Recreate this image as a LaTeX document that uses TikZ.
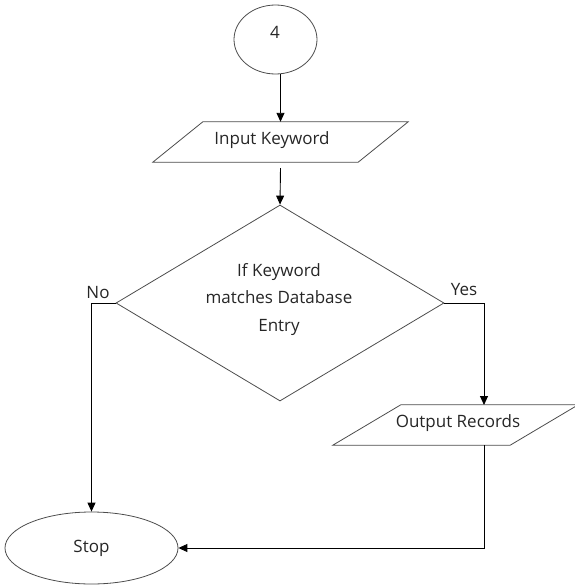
\documentclass[tikz,border=0pt]{standalone}
\usepackage{fontspec}
\setmainfont{Open Sans}
\usetikzlibrary{shapes.geometric,arrows.meta}
\begin{document}
\begin{tikzpicture}[x=1pt,y=-1pt,
  shapeline/.style={draw=black!70, line width=0.8pt},
  term/.style={shapeline, ellipse, inner sep=0pt},
  iobox/.style={inner sep=0pt, minimum height=40pt},
  decision/.style={shapeline, diamond, inner sep=0pt, minimum width=328pt, minimum height=196pt, aspect=1.67},
  lbl/.style={font=\fontsize{17}{27.5}\selectfont, text=black!85, inner sep=0pt, align=center},
  conn/.style={draw=black, line width=0.9pt},
  arr/.style={conn, -{Triangle[width=8pt,length=9pt]}},
]
\useasboundingbox (0,0) rectangle (574,587);

\node[term, minimum width=83pt, minimum height=69pt] (c4) at (275.5,39.5) {};
\node[lbl] (c4t) at (275,32) {4};

\node[iobox, minimum width=205pt] (inkw) at (280.5,142) {};
\draw[shapeline] ([xshift=-25pt]inkw.south west) -- ([xshift=25pt]inkw.north west) -- ([xshift=25pt]inkw.north east) -- ([xshift=-25pt]inkw.south east) -- cycle;
\node[lbl] (inkwt) at (272,140) {Input Keyword};

\node[decision] (dia) at (280,303) {};
\node[lbl] (diat) at (279,299.5) {If Keyword\\matches Database\\Entry};

\node[iobox, minimum width=177pt] (out) at (455.5,425) {};
\draw[shapeline] ([xshift=-34pt]out.south west) -- ([xshift=34pt]out.north west) -- ([xshift=34pt]out.north east) -- ([xshift=-34pt]out.south east) -- cycle;
\node[lbl] (outt) at (458,423) {Output Records};

\node[term, minimum width=173pt, minimum height=72pt, font=\fontsize{17}{27.5}\selectfont, text=black!85] (stop) at (91.5,548) {Stop};

\node[lbl, anchor=base] (no) at (98,298) {No};
\node[lbl, anchor=base] (yes) at (464,295) {Yes};

\coordinate (outin) at (484,405);
\coordinate (outbot) at (484,445);

\draw[arr] (c4.south -| inkw.north) -- (inkw.north);
\draw[arr] ([yshift=-6pt]inkw.south) -- (dia.north);
\draw[arr] (dia.west) -| (stop.north);
\draw[arr] (dia.east) -| (outin);
\draw[arr] (outbot) |- (stop.east);
\end{tikzpicture}
\end{document}
